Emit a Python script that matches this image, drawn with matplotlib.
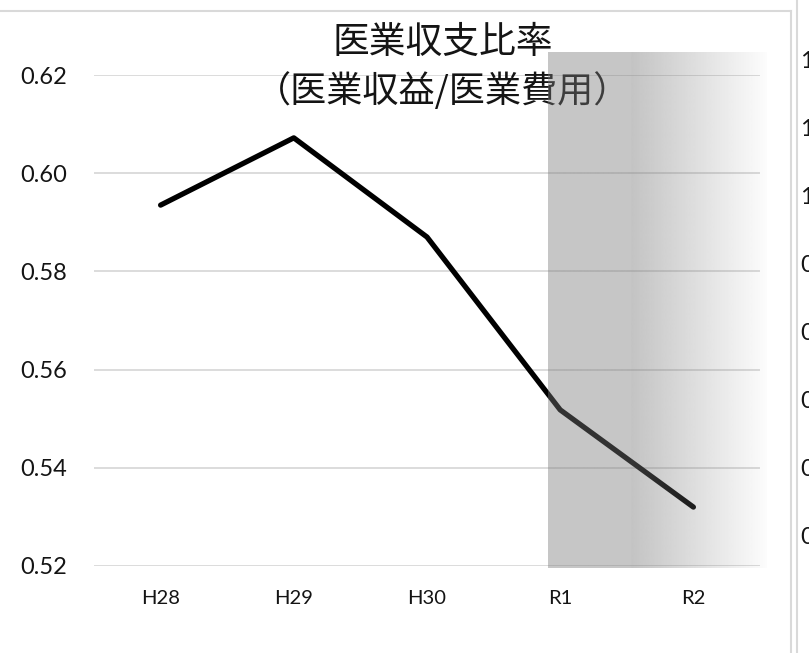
import numpy as np
import matplotlib
matplotlib.use('Agg')
import matplotlib.pyplot as plt
from matplotlib.lines import Line2D

# data
years = ['H28', 'H29', 'H30', 'R1', 'R2']
ratio = [0.5935, 0.6072, 0.5870, 0.5518, 0.5320]
yticks = [0.52, 0.54, 0.56, 0.58, 0.60, 0.62]
title_1 = '医業収支比率'
title_2 = '（医業収益/医業費用）'
# tick labels of the next chart, cut off at the right edge
side_labels = ['1', '1', '1', '0', '0', '0', '0', '0']

W, H = 809, 653
tick_font = ['Lato', 'DejaVu Sans']
jp_font = ['Noto Sans CJK JP', 'DejaVu Sans']
grid_col = '#d9d9d9'
txt_col = '#141414'

fig = plt.figure(figsize=(W / 100, H / 100), dpi=100)
fig.patch.set_facecolor('white')

# plot area in pixels: x 94..760, y 75..566
ax = fig.add_axes([94 / W, 1 - 566 / H, (760 - 94) / W, (566 - 75) / H])
x = np.arange(len(years))
ax.plot(x, ratio, color='black', linewidth=3.8, solid_capstyle='round',
        solid_joinstyle='round', zorder=4)

ax.set_yticks(yticks)
ax.set_yticklabels(['%.2f' % v for v in yticks], fontsize=17,
                   family=tick_font, color=txt_col)
ax.set_xticks(x)
ax.set_xticklabels(years, fontsize=14.5, family=tick_font, color=txt_col)
ax.tick_params(length=0)
ax.tick_params(axis='y', pad=19.4)
ax.tick_params(axis='x', pad=17)
for s in ax.spines.values():
    s.set_visible(False)
ax.grid(axis='y', color=grid_col, linewidth=1.3, zorder=1)
ax.set_axisbelow(True)

# title (inside axes so the shading sits on top of it)
ax.text(443 / W, 1 - 42 / H, title_1, transform=fig.transFigure, ha='center',
        va='center', fontsize=26.5, family=jp_font, color=txt_col, zorder=5)
ax.text(443 / W, 1 - 91 / H, title_2, transform=fig.transFigure, ha='center',
        va='center', fontsize=26, family=jp_font, color=txt_col, zorder=5)

# gray fade over R1-R2
n = 256
t = np.linspace(0, 1, n)
alpha = np.where(t < 0.38, 0.42, 0.42 * (1 - (t - 0.38) / 0.62) + 0.02)
img = np.zeros((1, n, 4))
img[..., :3] = 120 / 255
img[0, :, 3] = alpha
ax.imshow(img, extent=[2.91, 4.55, 0.5196, 0.6245], aspect='auto',
          interpolation='bilinear', zorder=10, clip_on=False)
ax.set_xlim(-0.5, len(years) - 0.5)
ax.set_ylim(yticks[0], yticks[-1])

# chart frame and the neighbouring chart's frame
fig.add_artist(Line2D([0, 791 / W], [1 - 11 / H, 1 - 11 / H], color=grid_col, lw=1.5))
fig.add_artist(Line2D([791 / W, 791 / W], [0, 1 - 11 / H], color=grid_col, lw=1.5))
fig.add_artist(Line2D([797 / W, 797 / W], [0, 1], color=grid_col, lw=1.5))

for i, lab in enumerate(side_labels):
    fig.text(800 / W, 1 - (62 + 68 * i) / H, lab, ha='left', va='center',
             fontsize=17, family=tick_font, color=txt_col)

fig.savefig('out.png', dpi=100)
